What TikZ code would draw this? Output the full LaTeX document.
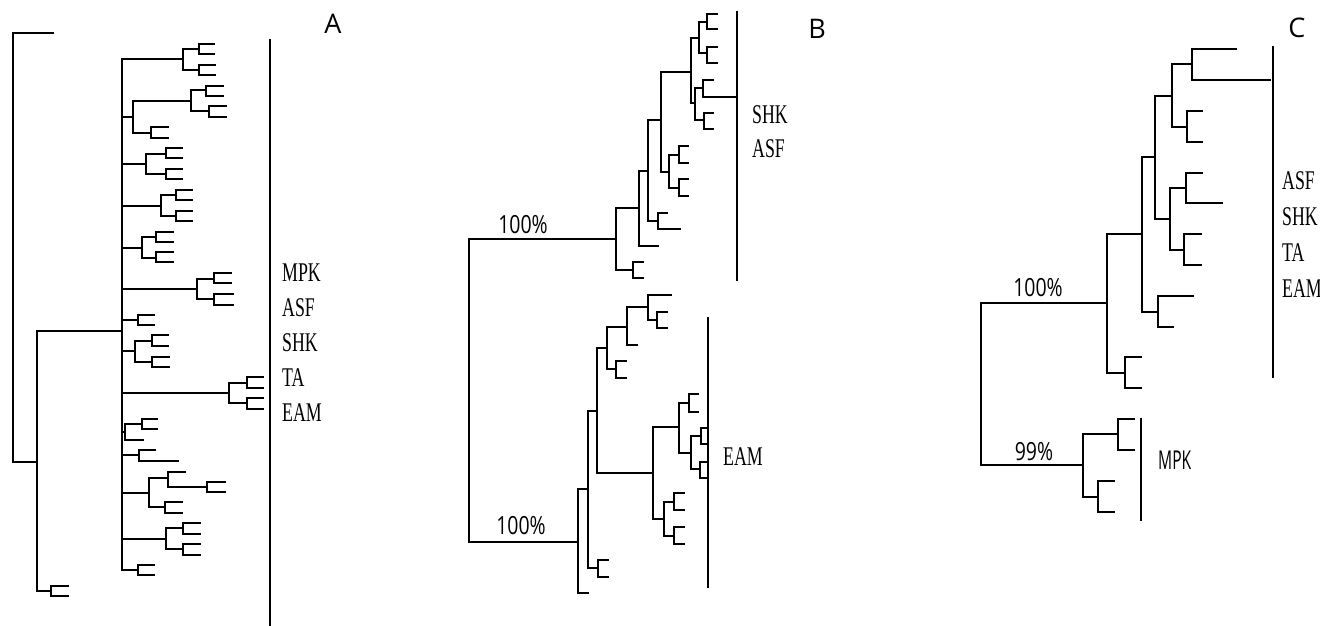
\documentclass[tikz,border=0pt]{standalone}
\usepackage{fontspec}
\newfontfamily\labserif[FakeStretch=0.66]{Liberation Serif}
\newfontfamily\labsans[FakeStretch=0.78]{Open Sans}
\newfontfamily\labsansn[FakeStretch=0.6]{Open Sans}
\newfontfamily\panelsans{Open Sans}
\tikzset{
  tree/.style={line width=1.9pt, line cap=rect, line join=miter},
  bar/.style={line width=2.1pt},
  taxon/.style={anchor=west, inner sep=0pt, font=\labserif\fontsize{27}{27}\selectfont},
  support/.style={inner sep=0pt, font=\labsans\fontsize{25}{25}\selectfont},
  panel/.style={inner sep=0pt, font=\panelsans\fontsize{27}{27}\selectfont},
}
% fork: x, ytop, ybot, top tip x, bottom tip x
\newcommand\fk[5]{\draw[tree] (#4,#2) -- (#1,#2) -- (#1,#3) -- (#5,#3);}
\newcommand\hl[3]{\draw[tree] (#1,#3) -- (#2,#3);}
\begin{document}
\begin{tikzpicture}[x=1pt,y=-1pt]
\useasboundingbox[fill=white] (0,0) rectangle (1320,626);
% ================= Panel A =================
\fk{13}{33}{462}{53}{37}
\fk{37}{331}{591}{122}{51}
\fk{51}{586}{596}{68}{68}
\draw[tree] (122,59) -- (122,570);
% 1
\hl{122}{183}{59}\fk{183}{49}{70}{199}{199}\fk{199}{44}{54}{214}{214}\fk{199}{65}{75}{215}{215}
% 2
\hl{122}{133}{117}\fk{133}{101}{133}{191}{151}\fk{191}{90}{111}{206}{209}
\fk{206}{86}{96}{223}{223}\fk{209}{106}{117}{226}{226}\fk{151}{127}{138}{168}{168}
% 3
\hl{122}{146}{164}\fk{146}{154}{174}{166}{166}\fk{166}{148}{158}{182}{182}\fk{166}{169}{179}{182}{182}
% 4
\hl{122}{161}{206}\fk{161}{195}{216}{176}{176}\fk{176}{190}{200}{192}{192}\fk{176}{211}{221}{192}{192}
% 5
\hl{122}{142}{248}\fk{142}{237}{258}{156}{156}\fk{156}{232}{242}{173}{173}\fk{156}{252}{262}{173}{173}
% 6
\hl{122}{197}{289}\fk{197}{279}{299}{214}{214}\fk{214}{273}{283}{231}{231}\fk{214}{294}{305}{233}{233}
% 7
\hl{122}{138}{320}\fk{138}{315}{325}{154}{154}
% 8
\hl{122}{135}{351}\fk{135}{341}{362}{152}{152}\fk{152}{335}{346}{168}{168}\fk{152}{357}{367}{169}{169}
% 9
\hl{122}{229}{393}\fk{229}{383}{403}{247}{247}\fk{247}{377}{388}{263}{263}\fk{247}{398}{409}{263}{263}
% 10
\hl{122}{125}{432}\fk{125}{424}{440}{142}{143}\fk{142}{419}{429}{157}{157}
% 11
\hl{122}{139}{455}\fk{139}{450}{461}{155}{178}
% 12
\hl{122}{149}{493}\fk{149}{478}{507}{168}{165}\fk{168}{472}{487}{185}{207}
\fk{207}{482}{492}{225}{225}\fk{165}{502}{513}{182}{182}
% 13
\hl{122}{166}{539}\fk{166}{528}{549}{183}{183}\fk{183}{523}{534}{200}{200}\fk{183}{544}{555}{200}{200}
% 14
\hl{122}{138}{570}\fk{138}{565}{575}{154}{154}
\draw[bar] (270,39) -- (270,626);
\node[panel] (pA) at (333,24) {A};
\node[taxon] (aMPK) at (282,273) {MPK};
\node[taxon] (aASF) at (282,308) {ASF};
\node[taxon] (aSHK) at (282,343) {SHK};
\node[taxon] (aTA)  at (282,378) {TA};
\node[taxon] (aEAM) at (282,413) {EAM};
% ================= Panel B =================
\fk{469}{239}{542}{616}{578}
\fk{616}{208}{270}{639}{633}\fk{633}{262}{278}{643}{643}
\fk{639}{171}{246}{648}{658}
\fk{648}{120}{221}{661}{658}\fk{658}{213}{229}{667}{680}
\fk{661}{72}{172}{691}{669}\fk{669}{155}{188}{679}{679}\fk{679}{146}{163}{688}{688}\fk{679}{179}{196}{688}{688}
\fk{691}{38}{103}{699}{695}\fk{699}{22}{53}{707}{707}\fk{707}{14}{29}{717}{717}\fk{707}{47}{63}{717}{717}
\fk{695}{88}{120}{703}{704}\fk{703}{80}{97}{713}{736}\fk{704}{113}{129}{713}{713}
\draw[bar] (737,11) -- (737,281);
\fk{578}{489}{593}{588}{588}
\fk{588}{411}{568}{597}{598}\fk{598}{560}{577}{608}{608}
\fk{597}{348}{473}{607}{653}
\fk{653}{427}{519}{679}{664}
\fk{664}{502}{536}{674}{674}\fk{674}{493}{510}{684}{684}\fk{674}{527}{544}{684}{684}
\fk{679}{403}{453}{689}{691}\fk{689}{394}{412}{698}{698}\fk{691}{436}{469}{701}{700}
\fk{701}{428}{444}{708}{708}\fk{700}{462}{478}{708}{708}
\fk{607}{327}{369}{627}{616}\fk{616}{361}{378}{626}{626}
\fk{627}{307}{345}{648}{637}
\fk{648}{295}{320}{671}{657}\fk{657}{312}{328}{667}{667}
\draw[bar] (708,317) -- (708,588);
\node[panel] (pB) at (817,29) {B};
\node[support] (bs1) at (523,225) {100\%};
\node[support] (bs2) at (521,526) {100\%};
\node[taxon] (bSHK) at (752,115) {SHK};
\node[taxon] (bASF) at (752,149) {ASF};
\node[taxon] (bEAM) at (723,457) {EAM};
% ================= Panel C =================
\fk{981}{303}{465}{1107}{1083}
\fk{1107}{234}{373}{1142}{1125}\fk{1125}{357}{388}{1141}{1141}
\fk{1142}{157}{312}{1155}{1158}\fk{1158}{296}{327}{1193}{1173}
\fk{1155}{96}{219}{1172}{1170}
\fk{1170}{188}{250}{1186}{1184}\fk{1186}{173}{203}{1202}{1222}\fk{1184}{234}{265}{1201}{1201}
\fk{1172}{64}{127}{1192}{1187}\fk{1192}{49}{80}{1236}{1270}\fk{1187}{111}{142}{1202}{1202}
\draw[bar] (1273,46) -- (1273,378);
\fk{1083}{434}{497}{1118}{1098}\fk{1118}{419}{450}{1134}{1134}\fk{1098}{481}{512}{1114}{1114}
\draw[bar] (1141,418) -- (1141,521);
\node[panel] (pC) at (1297,28) {C};
\node[support] (cs1) at (1038,288) {100\%};
\node[support] (cs2) at (1034,452) {99\%};
\node[taxon] (cASF) at (1282,181) {ASF};
\node[taxon] (cSHK) at (1282,217) {SHK};
\node[taxon] (cTA)  at (1282,253) {TA};
\node[taxon] (cEAM) at (1282,289) {EAM};
\node[anchor=west, inner sep=0pt, font=\labsansn\fontsize{26}{26}\selectfont] (cMPK) at (1158,460) {MPK};
\end{tikzpicture}
\end{document}
